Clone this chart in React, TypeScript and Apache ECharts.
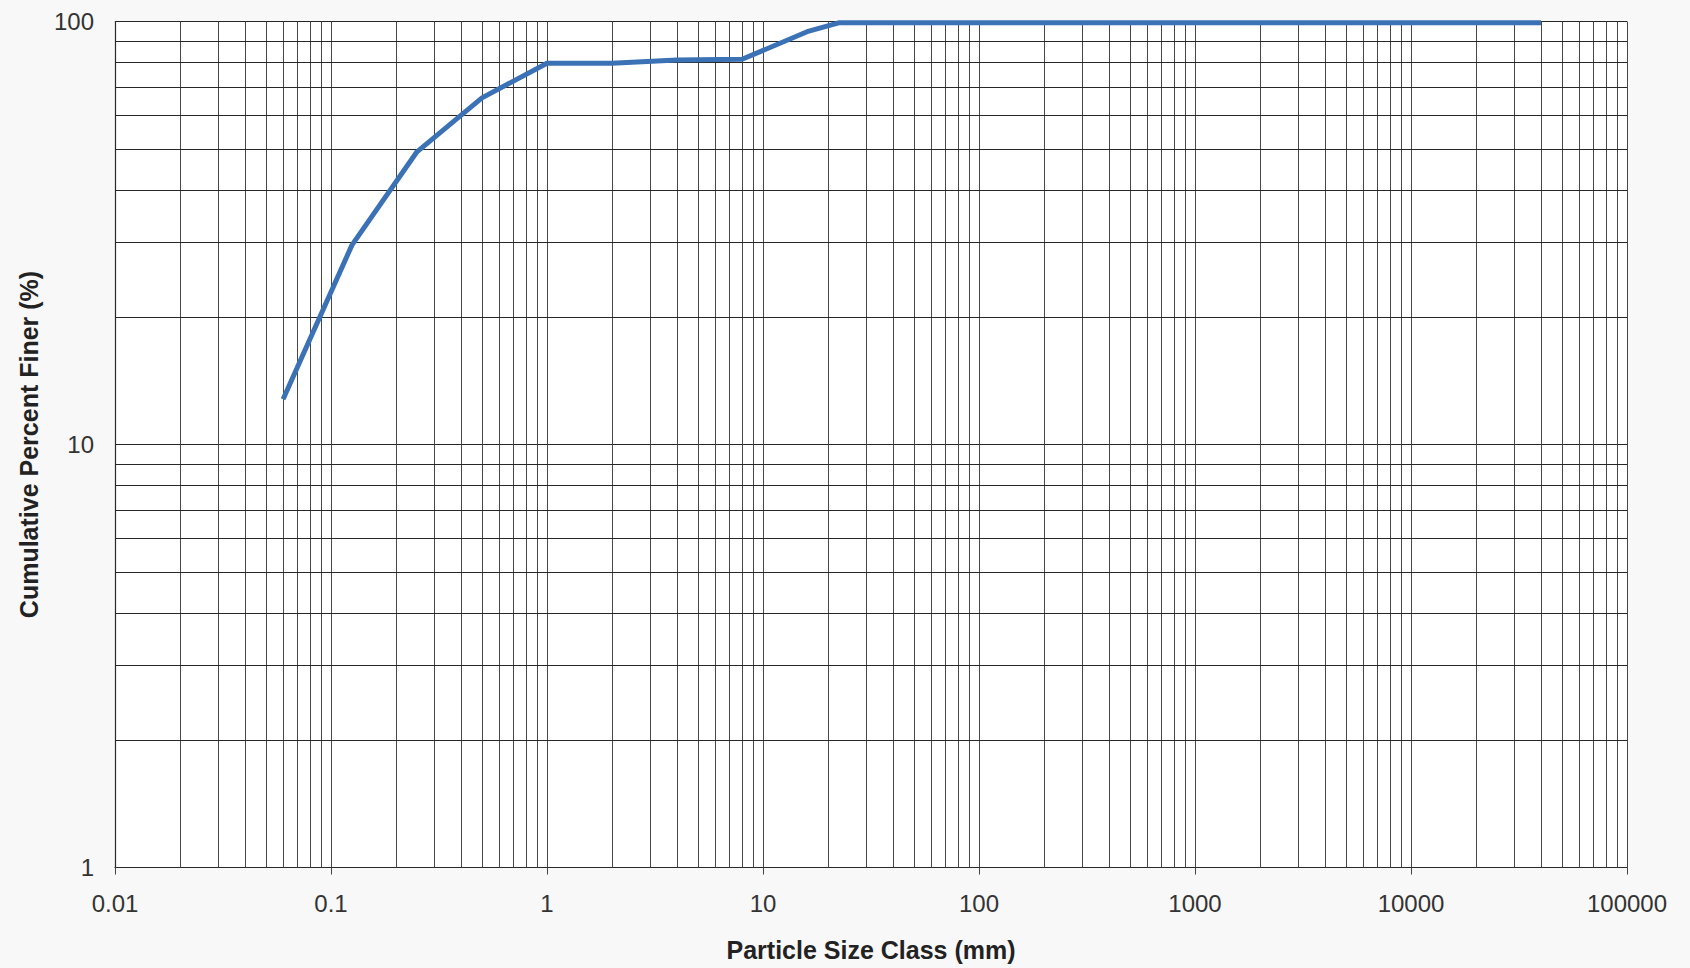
import { useEffect, useRef } from "react";
import * as echarts from "echarts";

// Particle size distribution
const sizeMm = [0.06, 0.125, 0.25, 0.5, 1, 2, 4, 8, 16, 22.4, 40000];
const percentFiner = [12.8, 29.6, 49.2, 66, 79.7, 79.7, 81.1, 81.4, 94.6, 99.3, 99.3];

// Axis decades (tick labels) and minor gridline multipliers
const xDecades = [0.01, 0.1, 1, 10, 100, 1000, 10000, 100000];
const yDecades = [1, 10, 100];
const minorMultipliers = [2, 3, 4, 5, 6, 7, 8, 9];

const xTitle = "Particle Size Class (mm)";
const yTitle = "Cumulative Percent Finer (%)";

const fmt = (v: number) => String(Number(Number(v).toPrecision(6)));

const minorOf = (decades: number[]) =>
  decades
    .slice(0, -1)
    .flatMap((d) => minorMultipliers.map((m) => Number((d * m).toPrecision(6))));

export default function App() {
  const ref = useRef<HTMLDivElement | null>(null);

  useEffect(() => {
    if (!ref.current) return;
    const chart = echarts.init(ref.current, null, { renderer: "svg" });

    const gridV = { color: "#474747", width: 1 };
    const gridH = { color: "#262626", width: 1.2 };

    const markData: any[] = [
      ...minorOf(xDecades).map((v) => ({ xAxis: v, lineStyle: { ...gridV, type: "solid" } })),
      ...minorOf(yDecades).map((v) => ({ yAxis: v, lineStyle: { ...gridH, type: "solid" } })),
    ];

    const option: any = {
      animation: false,
      backgroundColor: "#f8f8f8",
      textStyle: { fontFamily: "'Liberation Sans', Arial, sans-serif" },
      grid: {
        left: 115,
        right: 63,
        top: 21.5,
        bottom: 100.5,
        show: true,
        backgroundColor: "#ffffff",
        borderWidth: 0,
        containLabel: false,
        outerBoundsMode: "none",
      },
      xAxis: {
        type: "log",
        logBase: 10,
        min: xDecades[0],
        max: xDecades[xDecades.length - 1],
        name: xTitle,
        nameLocation: "middle",
        nameGap: 70,
        nameTextStyle: { fontSize: 25, fontWeight: "bold", color: "#222" },
        axisLine: { show: true, lineStyle: { color: "#2a2a2a", width: 1.2 } },
        axisTick: { show: true, length: 7, lineStyle: { color: "#444", width: 1 } },
        axisLabel: {
          fontSize: 24,
          color: "#333",
          margin: 24,
          formatter: fmt,
          showMinLabel: true,
          showMaxLabel: true,
        },
        splitLine: { show: true, lineStyle: { ...gridV } },
      },
      yAxis: {
        type: "log",
        logBase: 10,
        min: yDecades[0],
        max: yDecades[yDecades.length - 1],
        name: yTitle,
        nameLocation: "middle",
        nameGap: 74,
        nameTextStyle: { fontSize: 25, fontWeight: "bold", color: "#222" },
        axisLine: { show: true, lineStyle: { color: "#2a2a2a", width: 1.2 } },
        axisTick: { show: false },
        axisLabel: {
          fontSize: 24,
          color: "#333",
          margin: 21,
          formatter: fmt,
          showMinLabel: true,
          showMaxLabel: true,
        },
        splitLine: { show: true, lineStyle: { ...gridH } },
      },
      series: [
        {
          type: "line",
          data: [],
          z: 1,
          silent: true,
          markLine: {
            silent: true,
            symbol: ["none", "none"],
            label: { show: false },
            emphasis: { disabled: true },
            animation: false,
            data: markData,
          },
        },
        {
          type: "line",
          data: sizeMm.map((x, i) => [x, percentFiner[i]]),
          symbol: "none",
          showSymbol: false,
          z: 5,
          lineStyle: { color: "#3b72b5", width: 5, cap: "butt", join: "round" },
        },
      ],
    };

    chart.setOption(option);
    return () => chart.dispose();
  }, []);

  return (
    <div
      ref={ref}
      style={{ position: "absolute", left: 0, top: 0, width: 1690, height: 968 }}
    />
  );
}
